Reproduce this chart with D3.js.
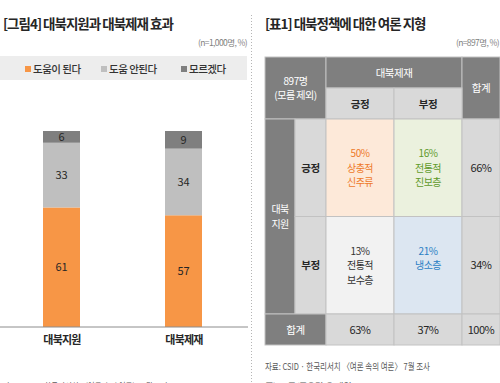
<!DOCTYPE html>
<html><head><meta charset="utf-8">
<script src="https://cdn.jsdelivr.net/npm/d3@7"></script>
<style>
html,body{margin:0;padding:0;background:#fff;}
svg{display:block;font-family:"Noto Sans CJK KR","Noto Sans",sans-serif;}
</style></head>
<body>
<svg id="c" width="500" height="383"></svg>
<script>
// ---------- data ----------
const categories = ["대북지원", "대북제재"];
const seriesNames = ["도움이 된다", "도움 안된다", "모르겠다"];
const helpful = [61, 57];
const notHelpful = [33, 34];
const unknown = [6, 9];

const sanctionCols = ["긍정", "부정"];
const supportRows = ["긍정", "부정"];
const cellValues = [[50, 16], [13, 21]];
const cellNames = [[["상충적", "신주류"], ["전통적", "진보층"]], [["전통적", "보수층"], ["냉소층"]]];
const rowTotals = [66, 34];
const colTotals = [63, 37];
const grandTotal = 100;

// ---------- styles ----------
const seriesColors = ["#f79646", "#bfbfbf", "#7f7f7f"];
const cellFill = [["#fde9d9", "#ebf1de"], ["#f2f2f2", "#dce6f1"]];
const cellText = [["#ee7a2a", "#5f9a2b"], ["#333333", "#2a7fc4"]];
const DARK = "#7f7f7f", LIGHT = "#d9d9d9", BORDER = "#c2c2c2";

const svg = d3.select("#c");

// ---------- left: stacked bar chart ----------
svg.append("text").attr("x", 3).attr("y", 29).attr("font-size", 13.5).attr("font-weight", 700)
  .attr("letter-spacing", -1.0).attr("fill", "#262626").text("[그림4] 대북지원과 대북제재 효과");
svg.append("text").attr("x", 247).attr("y", 46).attr("text-anchor", "end").attr("font-size", 8.5)
  .attr("letter-spacing", -0.6).attr("fill", "#808080").text("(n=1,000명, %)");

// legend
svg.append("rect").attr("x", 0).attr("y", 56).attr("width", 247).attr("height", 24).attr("fill", "#ededed");
const legendX = d3.scaleOrdinal().domain(seriesNames).range([25, 101, 181]);
const lg = svg.append("g").selectAll("g").data(seriesNames).join("g")
  .attr("transform", d => `translate(${legendX(d)},69)`);
lg.append("rect").attr("x", 0).attr("y", -3).attr("width", 6).attr("height", 6)
  .attr("fill", (d, i) => seriesColors[i]);
lg.append("text").attr("x", 8).attr("y", 4).attr("font-size", 10.5).attr("font-weight", 500)
  .attr("letter-spacing", -0.5).attr("fill", "#333").text(d => d);

const rows = categories.map((c, i) => ({cat: c, [seriesNames[0]]: helpful[i], [seriesNames[1]]: notHelpful[i], [seriesNames[2]]: unknown[i]}));
const stack = d3.stack().keys(seriesNames)(rows);
const x = d3.scalePoint().domain(categories).range([61.5, 183.5]);
const barW = 37;
const y = d3.scaleLinear().domain([0, 100]).range([327, 131]);

const layers = svg.append("g").selectAll("g").data(stack).join("g")
  .attr("fill", (d, i) => seriesColors[i]);
layers.selectAll("rect").data(d => d).join("rect")
  .attr("x", d => x(d.data.cat) - barW / 2)
  .attr("y", d => y(d[1]))
  .attr("width", barW)
  .attr("height", d => y(d[0]) - y(d[1]));
layers.selectAll("text").data(d => d.map(v => ({v, key: d.key}))).join("text")
  .attr("x", d => x(d.v.data.cat))
  .attr("y", d => (y(d.v[0]) + y(d.v[1])) / 2 + 4)
  .attr("text-anchor", "middle").attr("font-size", 11).attr("fill", "#262626")
  .text(d => d.v.data[d.key]);

// baseline axis
const xAxis = d3.axisBottom(x).tickSize(0).tickPadding(9);
const ax = svg.append("g").attr("transform", "translate(0,327)").call(xAxis);
ax.select(".domain").remove();
ax.append("line").attr("x1", 0).attr("x2", 248).attr("stroke", "#8c8c8c").attr("stroke-width", 1);
ax.selectAll(".tick text").attr("font-family", "Noto Sans CJK KR").attr("font-size", 11).attr("font-weight", 700)
  .attr("letter-spacing", -0.8).attr("fill", "#262626");

svg.append("text").attr("x", 3).attr("y", 390).attr("font-size", 9.5)
  .attr("textLength", 165).attr("lengthAdjust", "spacingAndGlyphs")
  .attr("fill", "#595959").text("자료: CSID · 한국리서치 〈여론 속의 여론〉 7월 조사");

// divider
svg.append("line").attr("x1", 251.5).attr("x2", 251.5).attr("y1", 15).attr("y2", 383)
  .attr("stroke", "#b5b5b5").attr("stroke-dasharray", "1,2");

// ---------- right: table ----------
svg.append("text").attr("x", 265).attr("y", 29).attr("font-size", 13.5).attr("font-weight", 700)
  .attr("letter-spacing", -1.0).attr("fill", "#262626").text("[표1] 대북정책에 대한 여론 지형");
svg.append("text").attr("x", 499).attr("y", 46).attr("text-anchor", "end").attr("font-size", 8.5)
  .attr("letter-spacing", -0.6).attr("fill", "#808080").text("(n=897명, %)");

const T = {x0: 265, x1: 295, top: 57, h1: 88};
const colX = d3.scaleBand().domain(sanctionCols).range([326, 462]);
const rowY = d3.scaleBand().domain(supportRows).range([119, 314]);
const xTot = colX.range()[1], xEnd = 500;
const yHead = T.top, yHead2 = T.h1, yBody = rowY.range()[0], yTot = rowY.range()[1], yEnd = 345;
const LH = 14.5;

const tbl = svg.append("g");
function cell(x0, y0, w, h, fill) {
  tbl.append("rect").attr("x", x0).attr("y", y0).attr("width", w).attr("height", h)
    .attr("fill", fill).attr("stroke", BORDER).attr("stroke-width", 1);
}
function label(cx, cy, lines, color, opts = {}) {
  const n = lines.length;
  const size = opts.size || (n > 1 ? 10 : 10.5);
  lines.forEach((s, i) => {
    const off = opts.top ? (i - 1) * LH : (i - (n - 1) / 2) * LH;
    tbl.append("text").attr("text-anchor", "middle").attr("font-size", size)
      .attr("font-weight", opts.weight || 400).attr("letter-spacing", opts.ls ?? -0.5).attr("fill", color)
      .attr("x", cx).attr("y", cy + off + 4).text(s);
  });
}

// header cells
cell(T.x0, yHead, colX.range()[0] - T.x0, yBody - yHead, DARK);
label((T.x0 + colX.range()[0]) / 2, (yHead + yBody) / 2, ["897명", "(모름 제외)"], "#fff");
cell(colX.range()[0], yHead, xTot - colX.range()[0], yHead2 - yHead, DARK);
label((colX.range()[0] + xTot) / 2, (yHead + yHead2) / 2, ["대북제재"], "#fff");
cell(xTot, yHead, xEnd - xTot, yBody - yHead, DARK);
label((xTot + xEnd) / 2, (yHead + yBody) / 2, ["합계"], "#fff");
sanctionCols.forEach(c => {
  cell(colX(c), yHead2, colX.bandwidth(), yBody - yHead2, LIGHT);
  label(colX(c) + colX.bandwidth() / 2, (yHead2 + yBody) / 2, [c], "#262626", {weight: 700});
});

// row headers
cell(T.x0, yBody, T.x1 - T.x0, yTot - yBody, DARK);
label((T.x0 + T.x1) / 2, (yBody + yTot) / 2, ["대북", "지원"], "#fff", {ls: -0.8});
supportRows.forEach((r, i) => {
  const cy = rowY(r) + rowY.bandwidth() / 2;
  cell(T.x1, rowY(r), colX.range()[0] - T.x1, rowY.bandwidth(), LIGHT);
  label((T.x1 + colX.range()[0]) / 2, cy, [r], "#262626", {weight: 700});
  sanctionCols.forEach((c, j) => {
    cell(colX(c), rowY(r), colX.bandwidth(), rowY.bandwidth(), cellFill[i][j]);
    label(colX(c) + colX.bandwidth() / 2, cy, [cellValues[i][j] + "%", ...cellNames[i][j]], cellText[i][j], {top: true, size: 10});
  });
  cell(xTot, rowY(r), xEnd - xTot, rowY.bandwidth(), LIGHT);
  label((xTot + xEnd) / 2, cy, [rowTotals[i] + "%"], "#262626", {size: 11});
});

// total row
cell(T.x0, yTot, colX.range()[0] - T.x0, yEnd - yTot, DARK);
label((T.x0 + colX.range()[0]) / 2, (yTot + yEnd) / 2, ["합계"], "#fff");
sanctionCols.forEach((c, j) => {
  cell(colX(c), yTot, colX.bandwidth(), yEnd - yTot, LIGHT);
  label(colX(c) + colX.bandwidth() / 2, (yTot + yEnd) / 2, [colTotals[j] + "%"], "#262626", {size: 11});
});
cell(xTot, yTot, xEnd - xTot, yEnd - yTot, LIGHT);
label((xTot + xEnd) / 2, (yTot + yEnd) / 2, [grandTotal + "%"], "#262626", {size: 11});

svg.append("text").attr("x", 265).attr("y", 370).attr("font-size", 9.5)
  .attr("textLength", 165).attr("lengthAdjust", "spacingAndGlyphs")
  .attr("fill", "#595959").text("자료: CSID · 한국리서치 〈여론 속의 여론〉 7월 조사");
svg.append("text").attr("x", 265).attr("y", 390).attr("font-size", 9.5).attr("letter-spacing", -0.6)
  .attr("fill", "#595959").text("주) '모름/무응답'은 제외");
</script>
</body></html>
